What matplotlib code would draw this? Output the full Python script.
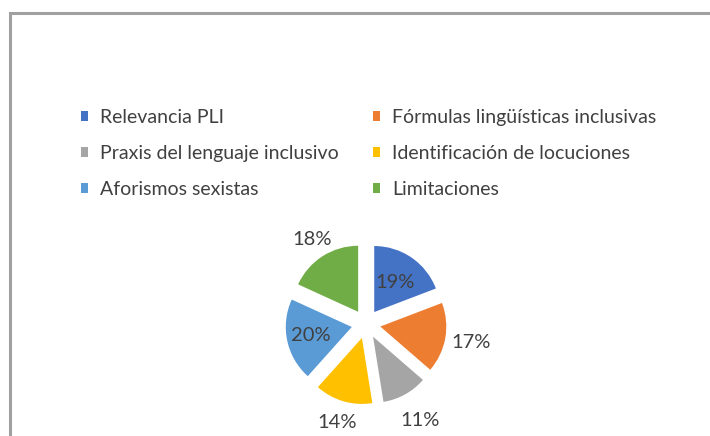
import numpy as np
import matplotlib
matplotlib.use("Agg")
import matplotlib.pyplot as plt
from matplotlib.patches import Rectangle

# data
categories = [
    "Relevancia PLI",
    "Fórmulas lingüísticas inclusivas",
    "Praxis del lenguaje inclusivo",
    "Identificación de locuciones",
    "Aforismos sexistas",
    "Limitaciones",
]
values = [19, 17, 11, 14, 20, 18]
colors = ["#4472C4", "#ED7D31", "#A5A5A5", "#FFC000", "#5B9BD5", "#70AD47"]

# label distance from slice center (fraction of radius)
label_dist = [0.55, 1.39, 1.45, 1.34, 0.63, 1.30]

plt.rcParams["font.family"] = ["Lato", "DejaVu Sans"]
text_color = "#404040"

W, H = 710, 436
fig = plt.figure(figsize=(W / 100, H / 100), dpi=100)
ax = fig.add_axes([0, 0, 1, 1])

# chart frame (only top and left edges visible in the crop)
ax.add_patch(Rectangle((10, -20), W + 40, H - 13 + 20, fill=False,
                       edgecolor="#a0a0a0", linewidth=2.2))

cx, cy, r = 366, H - 324, 66
offset = 0.22 * r  # explode is in data units

wedges, _ = ax.pie(
    values,
    colors=colors,
    startangle=90,
    counterclock=False,
    explode=[offset] * len(values),
    center=(cx, cy),
    radius=r,
    frame=True,
)
ax.set_xlim(0, W)
ax.set_ylim(0, H)
ax.set_aspect("equal")
ax.axis("off")

for w, v, d in zip(wedges, values, label_dist):
    ang = np.deg2rad((w.theta1 + w.theta2) / 2)
    dist = offset + d * r
    ax.text(cx + dist * np.cos(ang), cy + dist * np.sin(ang), f"{v}%",
            ha="center", va="center", fontsize=14.5, color=text_color)

# two-column legend, row-major order
leg_kw = dict(
    loc="upper left",
    frameon=False,
    fontsize=14,
    labelcolor=text_color,
    handlelength=0.38,
    handleheight=0.38,
    handletextpad=0.62,
    labelspacing=0.97,
    borderaxespad=0,
    borderpad=0,
)
leg1 = ax.legend(
    [wedges[i] for i in (0, 2, 4)],
    [categories[i] for i in (0, 2, 4)],
    bbox_to_anchor=(81 / W, 1 - 109 / H),
    **leg_kw,
)
ax.add_artist(leg1)
ax.legend(
    [wedges[i] for i in (1, 3, 5)],
    [categories[i] for i in (1, 3, 5)],
    bbox_to_anchor=(373 / W, 1 - 109 / H),
    **leg_kw,
)

fig.savefig("out.png", dpi=100, facecolor="white")
plt.close(fig)
